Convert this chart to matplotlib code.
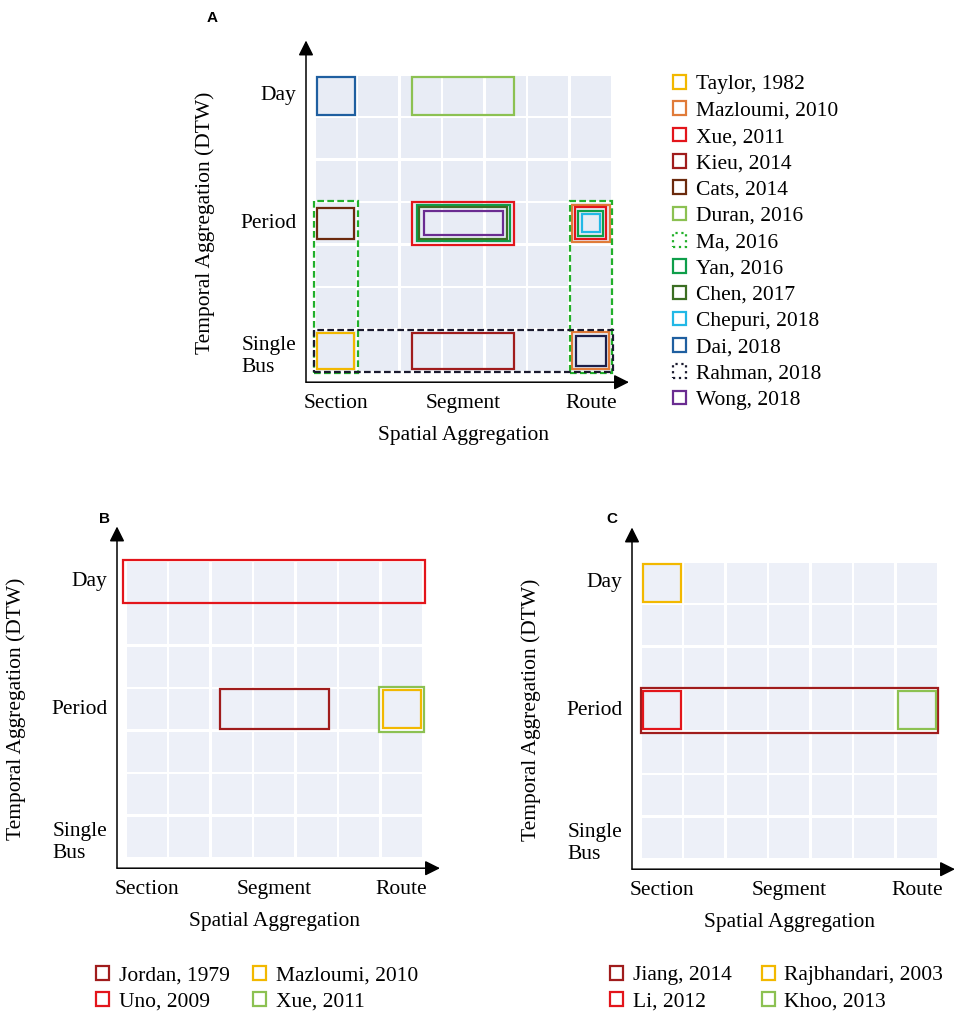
import matplotlib
matplotlib.use("Agg")
import matplotlib.pyplot as plt
import matplotlib.patches as mpatches

plt.rcParams['font.family'] = ['Liberation Serif', 'DejaVu Serif']

W, H = 957, 1019
PITCH = 42.5
FS = 15.5

# categories
x_labels = ["Section", "Segment", "Route"]
x_label_cols = [0, 3, 6]
y_labels = ["Day", "Period", "Single\nBus"]
y_label_rows = [0, 3, 6]

# panel A: studies and the cells each one covers (col_from, col_to, row_from, row_to), rows from top
studies_a = ["Taylor, 1982", "Mazloumi, 2010", "Xue, 2011", "Kieu, 2014", "Cats, 2014",
             "Duran, 2016", "Ma, 2016", "Yan, 2016", "Chen, 2017", "Chepuri, 2018",
             "Dai, 2018", "Rahman, 2018", "Wong, 2018"]
colors_a = ["#f2b800", "#e07b39", "#e3151b", "#a01c1c", "#6b2a0d",
            "#8cc152", "#22b02a", "#0e9e4a", "#3b6e22", "#22b8e6",
            "#1f5fa0", "#1a1a2e", "#6a2c91"]
dashed_a = ["Ma, 2016", "Rahman, 2018"]
cover_a = [
    ("Dai, 2018", 0, 0, 0, 0),
    ("Duran, 2016", 2, 4, 0, 0),
    ("Cats, 2014", 0, 0, 3, 3),
    ("Xue, 2011", 2, 4, 3, 3),
    ("Yan, 2016", 2, 4, 3, 3),
    ("Chen, 2017", 2, 4, 3, 3),
    ("Wong, 2018", 2, 4, 3, 3),
    ("Mazloumi, 2010", 6, 6, 3, 3),
    ("Xue, 2011", 6, 6, 3, 3),
    ("Yan, 2016", 6, 6, 3, 3),
    ("Chepuri, 2018", 6, 6, 3, 3),
    ("Taylor, 1982", 0, 0, 6, 6),
    ("Kieu, 2014", 2, 4, 6, 6),
    ("Mazloumi, 2010", 6, 6, 6, 6),
    ("Dai, 2018", 6, 6, 6, 6),
    ("Ma, 2016", 0, 0, 3, 6),
    ("Ma, 2016", 6, 6, 3, 6),
    ("Rahman, 2018", 0, 6, 6, 6),
]

# panel B
studies_b = ["Jordan, 1979", "Uno, 2009", "Mazloumi, 2010", "Xue, 2011"]
colors_b = ["#a01c1c", "#e3151b", "#f2b800", "#8cc152"]
cover_b = [
    ("Uno, 2009", 0, 6, 0, 0),
    ("Jordan, 1979", 2, 4, 3, 3),
    ("Xue, 2011", 6, 6, 3, 3),
    ("Mazloumi, 2010", 6, 6, 3, 3),
]

# panel C
studies_c = ["Jiang, 2014", "Li, 2012", "Rajbhandari, 2003", "Khoo, 2013"]
colors_c = ["#a01c1c", "#e3151b", "#f2b800", "#8cc152"]
cover_c = [
    ("Rajbhandari, 2003", 0, 0, 0, 0),
    ("Jiang, 2014", 0, 6, 3, 3),
    ("Li, 2012", 0, 0, 3, 3),
    ("Khoo, 2013", 6, 6, 3, 3),
]

# styling: box padding (x, y) in cell units, negative = inset
pads_a = [(-0.05, -0.05), (-0.3, -0.05), (-0.06, -0.135), (-0.3, 0.0), (-0.4, -0.075),
          (-0.47, -0.12), (-0.57, -0.215), (-0.05, -0.06), (-0.135, -0.125), (-0.21, -0.2),
          (-0.29, -0.285), (-0.07, -0.08), (-0.3, -0.08), (-0.06, -0.06), (-0.145, -0.145),
          (0.02, 0.02), (-0.01, 0.02), (0.02, 0.0)]
override_a = {14: "#1b1f4a"}
pads_b = [(0.05, 0.01), (-0.22, -0.03), (0.025, 0.025), (-0.05, -0.055)]
pads_c = [(-0.05, -0.05), (0.0, 0.03), (-0.055, -0.055), (-0.05, -0.05)]

fig = plt.figure(figsize=(W / 100, H / 100), dpi=100)


def make_panel(grid_left, grid_top, cell_color):
    x0, x1, y0, y1 = -3.2, 7.8, -2.0, 8.2
    left = grid_left + x0 * PITCH
    bottom = grid_top + (7 - y0) * PITCH
    ax = fig.add_axes([left / W, 1 - bottom / H, (x1 - x0) * PITCH / W, (y1 - y0) * PITCH / H])
    ax.set_xlim(x0, x1)
    ax.set_ylim(y0, y1)
    ax.axis('off')
    g = 0.07
    for c in range(7):
        for r in range(7):
            ax.add_patch(mpatches.Rectangle((c + g / 2, r + g / 2), 1 - g, 1 - g,
                                            facecolor=cell_color, edgecolor='none', zorder=1))
    ax_x, ax_y = -0.2, -0.24
    arrow = dict(arrowstyle='-|>,head_length=0.5,head_width=0.25', color='black',
                 lw=1.1, mutation_scale=18, shrinkA=0, shrinkB=0)
    ax.annotate('', xy=(ax_x, 7.8), xytext=(ax_x, ax_y), arrowprops=arrow)
    ax.annotate('', xy=(7.4, ax_y), xytext=(ax_x, ax_y), arrowprops=arrow)
    for lab, c in zip(x_labels, x_label_cols):
        ax.text(c + 0.5, -0.75, lab, ha='center', va='center', fontsize=FS)
    for lab, r in zip(y_labels, y_label_rows):
        yc = 7 - r - 0.5
        if "\n" in lab:
            yc -= 0.14
        ax.text(-0.42, yc, lab, ha='right', va='center', multialignment='left',
                fontsize=FS, linespacing=1.25)
    ax.text(3.5, -1.5, "Spatial Aggregation", ha='center', va='center', fontsize=FS)
    ax.text(-2.58, 3.5, "Temporal Aggregation (DTW)", ha='center', va='center',
            rotation=90, fontsize=FS)
    return ax


def draw_boxes(ax, cover, pads, studies, colors, dashed=(), override=None):
    cmap = dict(zip(studies, colors))
    for i, (name, c0, c1, r0, r1) in enumerate(cover):
        px, py = pads[i]
        col = cmap[name]
        if override and i in override:
            col = override[i]
        xa, xb = c0 - px, c1 + 1 + px
        ya, yb = 7 - (r1 + 1) - py, 7 - r0 + py
        ls = (0, (3, 1.5)) if name in dashed else '-'
        ax.add_patch(mpatches.Rectangle((xa, ya), xb - xa, yb - ya, facecolor='none',
                                        edgecolor=col, lw=1.6, linestyle=ls, zorder=3))


def make_legend(studies, colors, dashed, anchor, ncol, colspace=1.1):
    handles = []
    for name, col in zip(studies, colors):
        ls = ':' if name in dashed else '-'
        handles.append(mpatches.Patch(facecolor='none', edgecolor=col, lw=1.6,
                                      linestyle=ls, label=name))
    fig.legend(handles=handles, loc='upper left', ncol=ncol, frameon=False,
               bbox_to_anchor=(anchor[0] / W, 1 - anchor[1] / H),
               bbox_transform=fig.transFigure, fontsize=FS, handlelength=0.6,
               handleheight=0.6, handletextpad=0.45, labelspacing=0.32,
               borderpad=0, borderaxespad=0, columnspacing=colspace)


ax_a = make_panel(314.5, 74.5, "#e8ecf5")
draw_boxes(ax_a, cover_a, pads_a, studies_a, colors_a, dashed_a, override_a)
make_legend(studies_a, colors_a, dashed_a, (673, 75), 1)

ax_b = make_panel(125.5, 560.5, "#edf0f8")
draw_boxes(ax_b, cover_b, pads_b, studies_b, colors_b)
make_legend(studies_b, colors_b, [], (96, 966), 2)

ax_c = make_panel(640.5, 561.5, "#edf0f8")
draw_boxes(ax_c, cover_c, pads_c, studies_c, colors_c)
make_legend(studies_c, colors_c, [], (610, 966), 2, colspace=1.4)

for lab, (x, y) in zip(["A", "B", "C"], [(212, 18), (105, 519), (612, 519)]):
    fig.text(x / W, 1 - y / H, lab, fontsize=11, fontweight='bold',
             family='Liberation Sans', ha='center', va='center')

fig.savefig("out.png", dpi=100)
